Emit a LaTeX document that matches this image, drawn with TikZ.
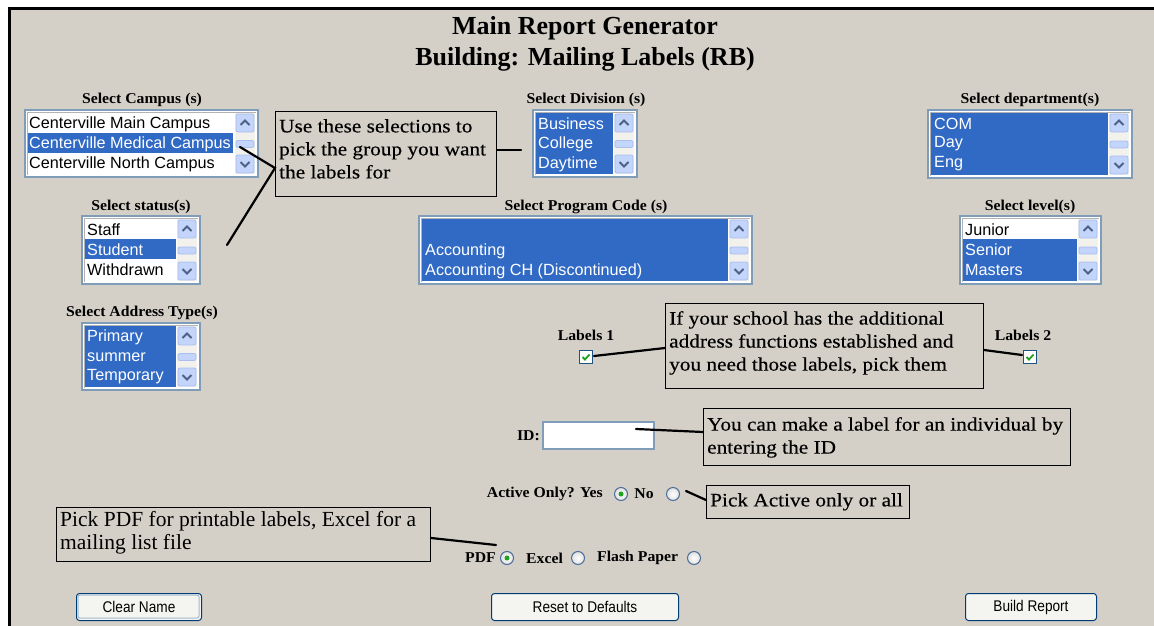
\documentclass[tikz,border=0pt]{standalone}
\usepackage{fontspec}
\setmainfont{Liberation Serif}
\newfontfamily\uifont{Liberation Sans}
\newfontfamily\btnfont[FakeStretch=0.88]{Liberation Sans}
\newfontfamily\notefont[FakeStretch=1.12, FakeBold=0.35]{Liberation Serif}
\newfontfamily\capfont[FakeStretch=1.05]{Liberation Serif}

\definecolor{page}{HTML}{D4D0C8}
\definecolor{selblue}{HTML}{316AC5}
\definecolor{lbborder}{HTML}{7F9DB9}
\definecolor{sbbtnfill}{HTML}{C4D5FB}
\definecolor{sbbtnline}{HTML}{A9BEEF}
\definecolor{sbarrowc}{HTML}{4D6185}
\definecolor{sbtrackc}{HTML}{F3F1EC}
\definecolor{checkgreen}{HTML}{21A121}
\definecolor{chkborder}{HTML}{1C5180}
\definecolor{btnline}{HTML}{003C74}
\definecolor{btnfill}{HTML}{F4F4F0}
\definecolor{radioline}{HTML}{4A6D98}

\tikzset{
  caption/.style={font=\capfont\bfseries\fontsize{15}{17}\selectfont, inner sep=0},
  lbtext/.style={font=\uifont\fontsize{16.2}{18}\selectfont, inner sep=0, anchor=west},
  annbox/.style={draw=black, line width=1, fill=page, inner sep=0, anchor=north west},
  anntext/.style={font=\notefont\fontsize{19}{23}\selectfont, align=left, inner sep=0, anchor=north west},
  leader/.style={line width=2.2, line cap=round},
  sbbtn/.style={draw=sbbtnline, fill=sbbtnfill, line width=0.8, rounded corners=2},
  sbarrow/.style={draw=sbarrowc, line width=1.8},
  pushbtn/.style={draw=btnline, fill=btnfill, line width=1, rounded corners=3,
    font=\btnfont\fontsize{15.5}{18}\selectfont, inner sep=0},
}

% scrollbar column: left x, top y, bottom y
\newcommand\sbar[3]{%
  \fill[sbtrackc] (#1,#2) rectangle (#1+20,#3);
  \draw[sbbtn] (#1+1,#2+1) rectangle (#1+19,#2+19);
  \draw[sbarrow] (#1+5.5,#2+12) -- (#1+10,#2+7.5) -- (#1+14.5,#2+12);
  \draw[sbbtn] (#1+1,#3-19) rectangle (#1+19,#3-1);
  \draw[sbarrow] (#1+5.5,#3-12) -- (#1+10,#3-7.5) -- (#1+14.5,#3-12);
  \draw[sbbtn] (#1+1,{(#2+#3)/2-3}) rectangle (#1+19,{(#2+#3)/2+4});
}
% list box frame: x1 y1 x2 y2
\newcommand\lbox[4]{%
  \filldraw[fill=white, draw=lbborder, line width=1.2] (#1,#2) rectangle (#3,#4);
  \draw[gray!60, line width=1] (#1+2,#4-2) -- (#1+2,#2+2) -- (#3-2,#2+2);
  \sbar{#3-23}{#2+3}{#4-3}
}
% highlighted block of rows: x1 y1 x2 y2
\newcommand\selrows[4]{\fill[selblue] (#1,#2) rectangle (#3,#4);}
% check box at centre
\newcommand\chk[2]{%
  \draw[draw=chkborder, fill=white, line width=1] (#1-6.5,#2-6.5) rectangle (#1+6.5,#2+6.5);
  \draw[checkgreen, line width=1.8] (#1-3.5,#2) -- (#1-1,#2+2.5) -- (#1+3.5,#2-2.5);
}
% radio button at centre; #3 = 1 when chosen
\newcommand\radio[3]{%
  \draw[draw=radioline, line width=1, inner color=white, outer color=gray!25] (#1,#2) circle (6.5);
  \ifnum#3=1 \fill[checkgreen] (#1,#2) circle (2.5);\fi
}

\begin{document}
\begin{tikzpicture}[x=1pt, y=-1pt]
\useasboundingbox (0,0) rectangle (1154,626);
\fill[white] (0,0) rectangle (1154,626);
\fill[page] (10,9) rectangle (1154,626);
\draw[line width=3] (1154,8.5) -- (9.5,8.5) -- (9.5,626);

% heading
\node[font=\bfseries\fontsize{26}{31}\selectfont, align=center] (title) at (585,44)
  {Main Report Generator\\Building: Mailing Labels (RB)};

% captions
\node[caption] (capCampus) at (142,100) {Select Campus (s)};
\node[caption] (capDiv) at (586,100) {Select Division (s)};
\node[caption] (capDept) at (1030,100) {Select department(s)};
\node[caption] (capProg) at (586,207) {Select Program Code (s)};
\node[caption] (capStatus) at (141,207) {Select status(s)};
\node[caption] (capLevel) at (1030,207) {Select level(s)};
\node[caption] (capAddr) at (142,313) {Select Address Type(s)};

% campus list
\lbox{25}{110}{258}{177}
\selrows{28}{133}{233}{153}
\node[lbtext] (c1) at (29,124) {Centerville Main Campus};
\node[lbtext, text=white] (c2) at (29,144) {Centerville Medical Campus};
\node[lbtext] (c3) at (29,164) {Centerville North Campus};

% division list
\lbox{533}{110}{637}{177}
\selrows{536}{113}{613}{174}
\node[lbtext, text=white] (d1) at (538,124) {Business};
\node[lbtext, text=white] (d2) at (538,144) {College};
\node[lbtext, text=white] (d3) at (538,164) {Daytime};

% department list
\lbox{928}{110}{1132}{178}
\selrows{931}{113}{1108}{175}
\node[lbtext, text=white] (e1) at (934,124) {COM};
\node[lbtext, text=white] (e2) at (934,144) {Day};
\node[lbtext, text=white] (e3) at (934,164) {Eng};

% program code list
\lbox{419}{216}{752}{284}
\selrows{422}{219}{728}{281}
\node[lbtext, text=white] (p1) at (425,251) {Accounting};
\node[lbtext, text=white] (p2) at (425,271) {Accounting CH (Discontinued)};

% status list
\lbox{82}{216}{200}{284}
\selrows{85}{239}{176}{259}
\node[lbtext] (s1) at (87,230) {Staff};
\node[lbtext, text=white] (s2) at (87,250) {Student};
\node[lbtext] (s3) at (87,270) {Withdrawn};

% level list
\lbox{960}{216}{1101}{284}
\selrows{963}{239}{1077}{281}
\node[lbtext] (l1) at (965,230) {Junior};
\node[lbtext, text=white] (l2) at (965,250) {Senior};
\node[lbtext, text=white] (l3) at (965,270) {Masters};

% address type list
\lbox{82}{323}{200}{390}
\selrows{85}{326}{176}{387}
\node[lbtext, text=white] (a1) at (87,337) {Primary};
\node[lbtext, text=white] (a2) at (87,357) {summer};
\node[lbtext, text=white] (a3) at (87,377) {Temporary};

% label checkboxes
\node[caption] (lab1) at (586,335) {Labels 1};
\node[caption] (lab2) at (1023,335) {Labels 2};
\chk{586}{357}
\chk{1030}{357}
\coordinate (chk1R) at (594,356);
\coordinate (chk2L) at (1022,355);

% ID field
\node[caption, anchor=east] (idcap) at (540,436) {ID:};
\filldraw[fill=white, draw=lbborder, line width=1.2] (543,422) rectangle (654,449);
\coordinate (idPt) at (636,429);

% active only
\node[caption, anchor=east] (actcap) at (603,494) {Active Only? Yes};
\radio{621}{494}{1}
\node[caption] (nocap) at (644,494) {No};
\radio{673}{494}{0}
\coordinate (noPt) at (686,491);

% output format
\node[caption, anchor=east] (pdfcap) at (496,558) {PDF};
\radio{507}{558}{1}
\node[caption, anchor=west] (xlcap) at (526,558) {Excel};
\radio{578}{558}{0}
\node[caption, anchor=west] (fpcap) at (597,558) {Flash Paper};
\radio{694}{558}{0}
\coordinate (pdfPt) at (496,545);

% buttons
\node[pushbtn, minimum width=125, minimum height=27, anchor=north west] (clearBtn) at (76,593) {Clear Name};
\draw[lbborder!70!white, line width=1, rounded corners=2] (78,595) rectangle (199,618);
\node[pushbtn, minimum width=187, minimum height=27, anchor=north west] (resetBtn) at (491,593) {Reset to Defaults};
\node[pushbtn, minimum width=131, minimum height=27, anchor=north west] (buildBtn) at (965,593) {Build Report};

% callout boxes
\node[annbox, minimum width=221, minimum height=85] (useBox) at (275,111) {};
\node[anntext] (useTxt) at (279,119) {Use these selections to\\pick the group you want\\the labels for};

\node[annbox, minimum width=318, minimum height=85] (addrBox) at (665,303) {};
\node[anntext] (addrTxt) at (669,311) {If your school has the additional\\address functions established and\\you need those labels, pick them};

\node[annbox, minimum width=367, minimum height=57] (idBox) at (703,408) {};
\node[anntext] (idTxt) at (707,417) {You can make a label for an individual by\\entering the ID};

\node[annbox, minimum width=203, minimum height=33] (actBox) at (706,485) {};
\node[anntext] (actTxt) at (710,493) {Pick Active only or all};

\node[annbox, minimum width=374, minimum height=54] (pdfBox) at (56,507) {};
\node[anntext, font=\fontsize{21.5}{23}\selectfont] (pdfTxt) at (60,511) {Pick PDF for printable labels, Excel for a\\mailing list file};

% leader lines
\coordinate (campusPt) at (240,147);
\coordinate (statusPt) at (227,245);
\coordinate (divPt) at (521,150);
\draw[leader] (campusPt) -- ([yshift=-57pt]useBox.north west) -- (statusPt);
\draw[leader] ([yshift=-39pt]useBox.north east) -- (divPt);
\draw[leader] (chk1R) -- ([yshift=-45pt]addrBox.north west);
\draw[leader] ([yshift=-47pt]addrBox.north east) -- (chk2L);
\draw[leader] (idPt) -- ([yshift=-24pt]idBox.north west);
\draw[leader] (noPt) -- ([yshift=-15pt]actBox.north west);
\draw[leader] ([yshift=-31pt]pdfBox.north east) -- (pdfPt);
\end{tikzpicture}
\end{document}
